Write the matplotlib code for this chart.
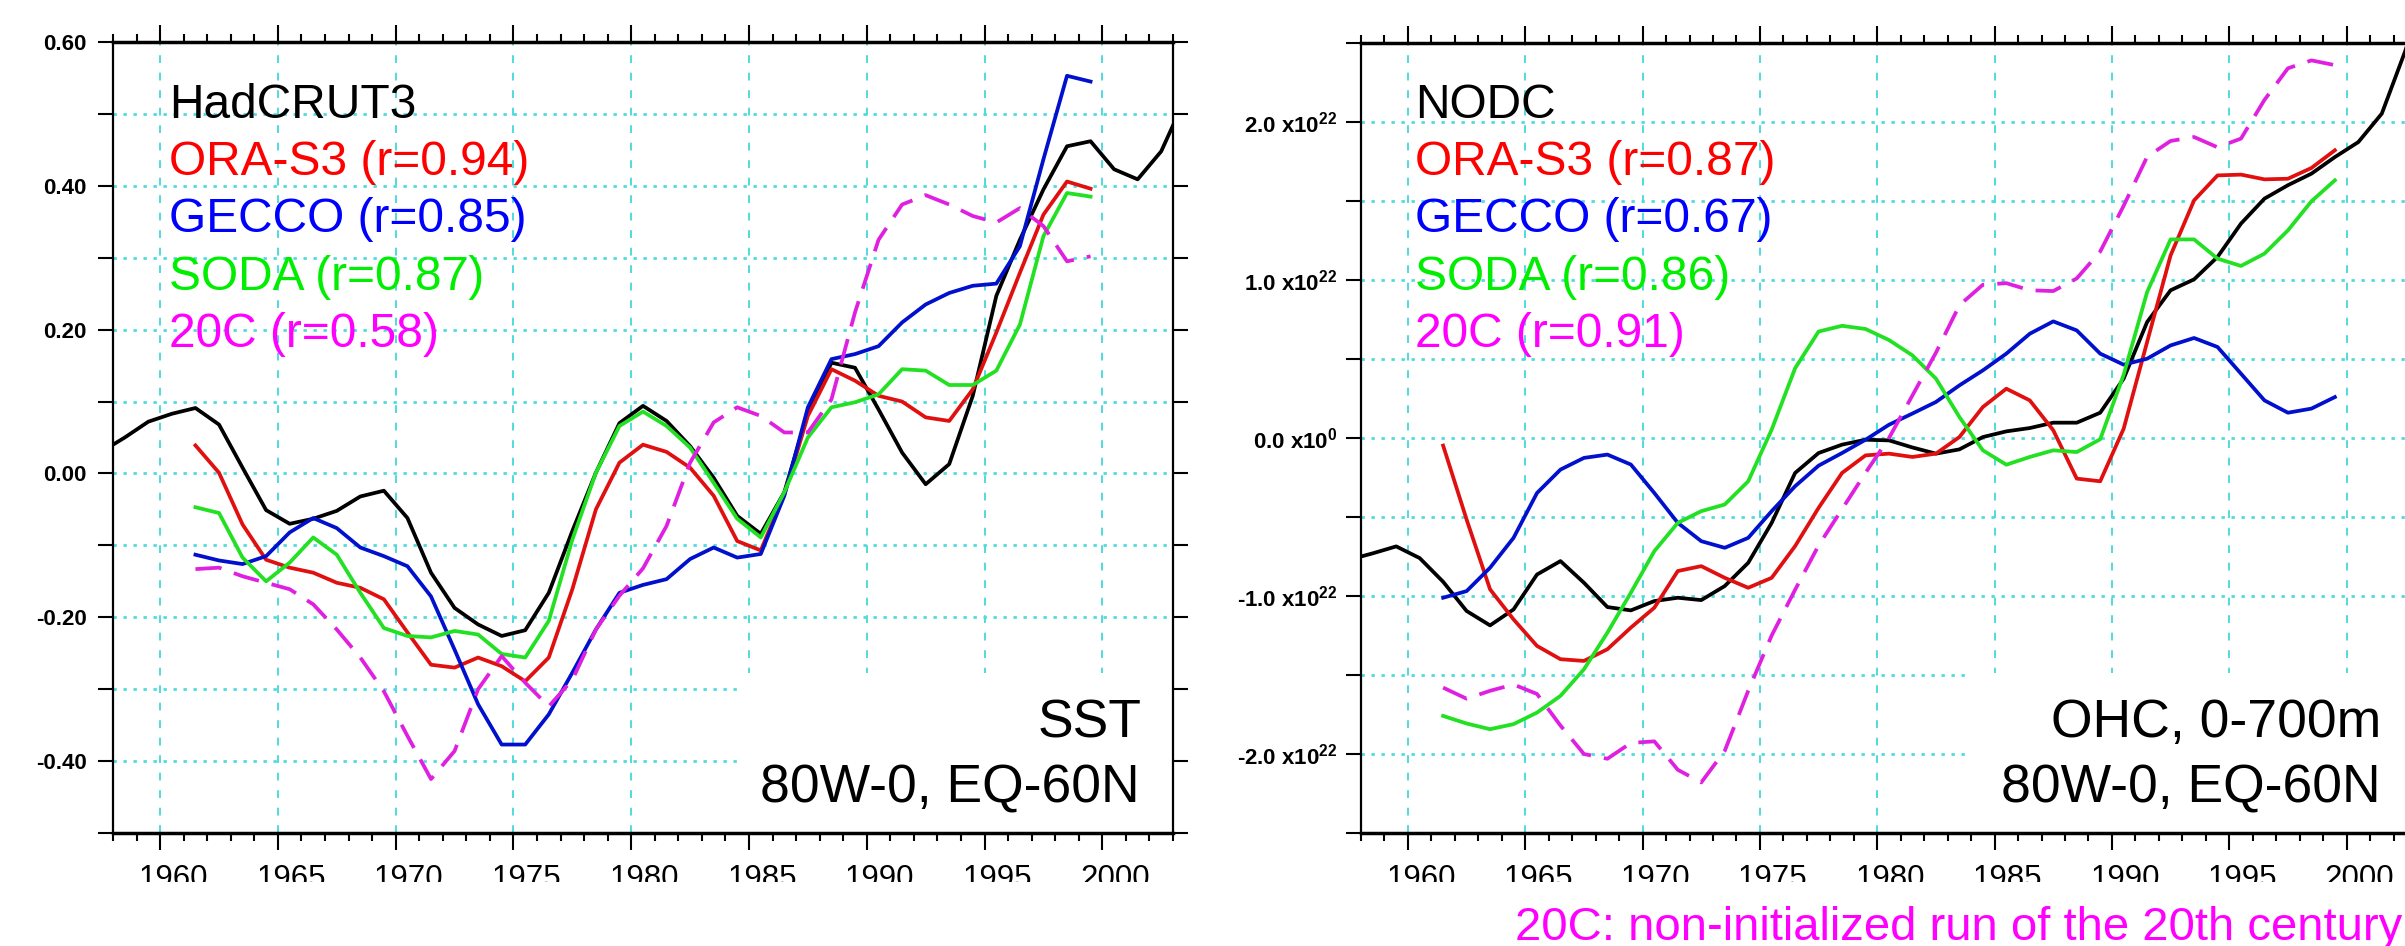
import numpy as np
import matplotlib
matplotlib.use('Agg')
import matplotlib.pyplot as plt
from matplotlib.transforms import ScaledTranslation
from matplotlib.patches import Rectangle

plt.rcParams['font.family'] = ['Liberation Sans', 'DejaVu Sans']
plt.rcParams['mathtext.fontset'] = 'custom'
plt.rcParams['mathtext.rm'] = 'Liberation Sans:bold'
plt.rcParams['mathtext.it'] = 'Liberation Sans:bold'
plt.rcParams['mathtext.bf'] = 'Liberation Sans:bold'

# ---- data (annual values plotted at mid-year) ----
obs_years = np.arange(1957.5, 2004.0, 1.0)
model_years = np.arange(1961.5, 2000.0, 1.0)

sst_hadcrut3 = [0.03, 0.05, 0.072, 0.083, 0.091, 0.068, 0.008, -0.051, -0.070, -0.063,
                -0.052, -0.032, -0.024, -0.062, -0.138, -0.187, -0.21, -0.226, -0.218, -0.166,
                -0.08, 0.001, 0.07, 0.094, 0.073, 0.038, -0.006, -0.059, -0.084, -0.026,
                0.085, 0.154, 0.147, 0.089, 0.029, -0.015, 0.013, 0.108, 0.247, 0.325,
                0.395, 0.455, 0.462, 0.423, 0.409, 0.448, 0.52]
sst_oras3 = [0.039, 0.001, -0.071, -0.12, -0.131, -0.138, -0.152, -0.159, -0.175, -0.221,
             -0.266, -0.27, -0.256, -0.268, -0.289, -0.256, -0.161, -0.05, 0.015, 0.04,
             0.030, 0.008, -0.031, -0.094, -0.107, -0.029, 0.08, 0.145, 0.129, 0.108,
             0.1, 0.078, 0.073, 0.117, 0.196, 0.279, 0.36, 0.406, 0.396]
sst_gecco = [-0.113, -0.121, -0.126, -0.115, -0.082, -0.062, -0.076, -0.103, -0.115, -0.129,
             -0.171, -0.245, -0.321, -0.377, -0.377, -0.335, -0.277, -0.217, -0.166, -0.155,
             -0.147, -0.119, -0.103, -0.117, -0.112, -0.031, 0.092, 0.159, 0.166, 0.177,
             0.21, 0.235, 0.251, 0.261, 0.264, 0.316, 0.437, 0.553, 0.545]
sst_soda = [-0.047, -0.055, -0.117, -0.15, -0.124, -0.089, -0.113, -0.166, -0.215, -0.226,
            -0.228, -0.219, -0.224, -0.251, -0.256, -0.205, -0.092, 0.001, 0.066, 0.086,
            0.066, 0.036, -0.013, -0.063, -0.089, -0.026, 0.05, 0.092, 0.099, 0.11,
            0.145, 0.143, 0.123, 0.123, 0.143, 0.207, 0.33, 0.39, 0.385]
sst_20c = [-0.133, -0.131, -0.143, -0.152, -0.161, -0.182, -0.217, -0.256, -0.303, -0.365,
           -0.425, -0.386, -0.3, -0.254, -0.291, -0.324, -0.287, -0.217, -0.17, -0.132,
           -0.073, 0.015, 0.071, 0.092, 0.08, 0.057, 0.057, 0.103, 0.224, 0.325,
           0.374, 0.387, 0.374, 0.358, 0.349, 0.369, 0.344, 0.295, 0.302]

# OHC 0-700m, units of 1e22 J
ohc_nodc = [-0.77, -0.73, -0.686, -0.76, -0.91, -1.095, -1.186, -1.085, -0.864, -0.779,
            -0.916, -1.07, -1.091, -1.032, -1.011, -1.026, -0.937, -0.79, -0.537, -0.221,
            -0.095, -0.042, -0.011, -0.015, -0.06, -0.099, -0.072, 0.006, 0.042, 0.063,
            0.097, 0.097, 0.16, 0.376, 0.734, 0.935, 1.004, 1.146, 1.357, 1.515,
            1.6, 1.673, 1.778, 1.873, 2.053, 2.45, 2.9]
ohc_oras3 = [-0.048, -0.516, -0.958, -1.148, -1.316, -1.40, -1.411, -1.337, -1.20, -1.074,
             -0.842, -0.811, -0.885, -0.948, -0.885, -0.684, -0.442, -0.221, -0.11, -0.099,
             -0.12, -0.099, 0.006, 0.196, 0.312, 0.238, 0.049, -0.257, -0.274, 0.059,
             0.608, 1.156, 1.504, 1.662, 1.667, 1.637, 1.641, 1.709, 1.821]
ohc_gecco = [-1.011, -0.969, -0.821, -0.632, -0.348, -0.2, -0.126, -0.105, -0.168, -0.348,
             -0.537, -0.653, -0.695, -0.632, -0.463, -0.305, -0.175, -0.095, -0.011, 0.084,
             0.155, 0.228, 0.333, 0.428, 0.534, 0.66, 0.738, 0.681, 0.534, 0.464,
             0.502, 0.586, 0.633, 0.576, 0.407, 0.238, 0.16, 0.186, 0.259]
ohc_soda = [-1.759, -1.807, -1.843, -1.811, -1.738, -1.632, -1.464, -1.232, -0.979, -0.716,
            -0.537, -0.463, -0.421, -0.274, 0.053, 0.442, 0.674, 0.71, 0.69, 0.62,
            0.523, 0.376, 0.133, -0.078, -0.169, -0.12, -0.078, -0.089, -0.008, 0.40,
            0.924, 1.257, 1.257, 1.135, 1.089, 1.167, 1.314, 1.498, 1.631]
ohc_20c = [-1.58, -1.65, -1.6, -1.56, -1.62, -1.82, -2.0, -2.03, -1.93, -1.92,
           -2.1, -2.18, -1.98, -1.6, -1.25, -0.96, -0.68, -0.45, -0.22, 0.0,
           0.27, 0.54, 0.84, 0.97, 0.98, 0.935, 0.93, 1.01, 1.18, 1.47,
           1.78, 1.88, 1.905, 1.84, 1.895, 2.14, 2.34, 2.39, 2.36]

xtick_years = [1960, 1965, 1970, 1975, 1980, 1985, 1990, 1995, 2000]
xtick_labels = ['1960', '1965', '1970', '1975', '1980', '1985', '1990', '1995', '2000']
sst_yticks = [-0.4, -0.2, 0.0, 0.2, 0.4, 0.6]
sst_ylabels = ['-0.40', '-0.20', '0.00', '0.20', '0.40', '0.60']
ohc_yticks = [-2.0, -1.0, 0.0, 1.0, 2.0]
ohc_ylabels = ['-2.0 x10$^{22}$', '-1.0 x10$^{22}$', '0.0 x10$^{0}$',
               '1.0 x10$^{22}$', '2.0 x10$^{22}$']

sst_legend = ['HadCRUT3', 'ORA-S3 (r=0.94)', 'GECCO (r=0.85)', 'SODA (r=0.87)', '20C (r=0.58)']
ohc_legend = ['NODC', 'ORA-S3 (r=0.87)', 'GECCO (r=0.67)', 'SODA (r=0.86)', '20C (r=0.91)']
text_colors = ['black', '#ff0000', '#0000ff', '#00ee00', '#ff00ff']
line_colors = ['black', '#e01010', '#0010cc', '#22e022', '#e020e0']

W, H = 2405, 946
grid_c = '#50dade'

fig = plt.figure(figsize=(W / 100, H / 100), dpi=100)


def fx(x):
    return x / W


def fy(y):
    return 1 - y / H


def setup(ax, ylim, yticks, ylabels, yminor, ylabpad):
    ax.set_xlim(1958, 2003)
    ax.set_ylim(*ylim)
    ax.set_xticks(xtick_years, xtick_labels)
    ax.set_xticks(np.arange(1958, 2004), minor=True)
    ax.set_yticks(yticks, ylabels, fontweight='bold')
    ax.set_yticks(yminor, minor=True)
    ax.tick_params(axis='x', which='both', direction='out', top=True, bottom=True,
                   width=1.5, color='black')
    ax.tick_params(axis='x', which='major', length=12, pad=10, labelsize=22.5)
    ax.tick_params(axis='x', which='minor', length=6)
    ax.tick_params(axis='y', which='both', direction='out', left=True, right=True,
                   length=11, width=1.5)
    ax.tick_params(axis='y', which='major', labelsize=16, pad=ylabpad)
    ax.grid(True, axis='x', which='major', color=grid_c, linestyle=(0, (4, 5)), lw=1.4)
    ax.grid(True, axis='y', which='both', color=grid_c, linestyle=(0, (1.2, 2.4)), lw=2)
    ax.set_axisbelow(True)
    for s in ['top', 'bottom']:
        ax.spines[s].set_linewidth(2.5)
    for s in ['left', 'right']:
        ax.spines[s].set_linewidth(1.6)
    offset = ScaledTranslation(0.13, 0, fig.dpi_scale_trans)
    for t in ax.xaxis.get_major_ticks():
        t.label1.set_transform(t.label1.get_transform() + offset)


def draw(ax, obs, models, box_x):
    ax.add_patch(Rectangle((box_x, 0), 1 - box_x, 0.2025, transform=ax.transAxes,
                           facecolor='white', edgecolor='none', zorder=1))
    ax.plot(obs_years, obs, color=line_colors[0], lw=2.7, zorder=2)
    for vals, c in zip(models[:3], line_colors[1:4]):
        ax.plot(model_years, vals, color=c, lw=2.7, zorder=2)
    ln, = ax.plot(model_years, models[3], color=line_colors[4], lw=2.7, zorder=2)
    ln.set_dashes((7, 3.5))


# left panel: SST
ax1 = fig.add_axes([fx(113), fy(833), 1060 / W, 791 / H])
sst_minor = [-0.5, -0.4, -0.3, -0.2, -0.1, 0.0, 0.1, 0.2, 0.3, 0.4, 0.5, 0.6]
setup(ax1, (-0.5, 0.6), sst_yticks, sst_ylabels, sst_minor, 8)
draw(ax1, sst_hadcrut3, [sst_oras3, sst_gecco, sst_soda, sst_20c], (742 - 113) / 1060)

# right panel: OHC (extends past right edge of figure)
ax2 = fig.add_axes([fx(1361), fy(833), 1056 / W, 790 / H])
ohc_minor = [-2.5, -2.0, -1.5, -1.0, -0.5, 0.0, 0.5, 1.0, 1.5, 2.0, 2.5]
setup(ax2, (-2.5, 2.5), ohc_yticks, ohc_ylabels, ohc_minor, 6)
draw(ax2, ohc_nodc, [ohc_oras3, ohc_gecco, ohc_soda, ohc_20c], (1969 - 1361) / 1056)

# legends written as coloured text
baselines = [118, 175, 232, 290, 347]
for s, c, y in zip(sst_legend, text_colors, baselines):
    fig.text(fx(169), fy(y), s, color=c, fontsize=34.5, va='baseline', ha='left', zorder=6)
for s, c, y in zip(ohc_legend, text_colors, baselines):
    fig.text(fx(1415), fy(y), s, color=c, fontsize=34.5, va='baseline', ha='left', zorder=6)

fig.text(fx(1142), fy(737), 'SST', fontsize=38.5, ha='right', va='baseline', zorder=6)
fig.text(fx(1140), fy(802), '80W-0, EQ-60N', fontsize=38.5, ha='right', va='baseline', zorder=6)
fig.text(fx(2381), fy(737), 'OHC, 0-700m', fontsize=38.5, ha='right', va='baseline', zorder=6)
fig.text(fx(2381), fy(802), '80W-0, EQ-60N', fontsize=38.5, ha='right', va='baseline', zorder=6)

# bottom strip cuts off the lower part of the year labels
fig.add_artist(Rectangle((0, 0), 1, (H - 882) / H, transform=fig.transFigure,
                         facecolor='white', edgecolor='none', zorder=5))
fig.text(fx(1515), fy(940), '20C: non-initialized run of the 20th century',
         color='#ff00ff', fontsize=34, ha='left', va='baseline', zorder=6)

fig.savefig('out.png', dpi=100)
